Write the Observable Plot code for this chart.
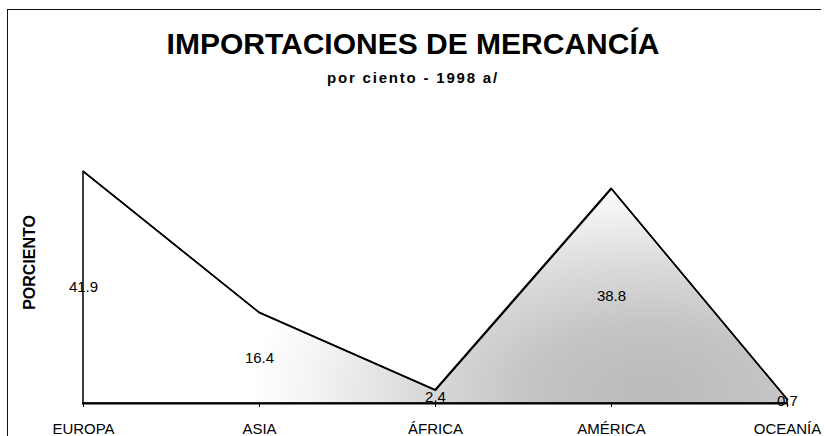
<!DOCTYPE html>
<html>
<head>
<meta charset="utf-8">
<script src="https://cdn.jsdelivr.net/npm/d3@7"></script>
<script src="https://cdn.jsdelivr.net/npm/@observablehq/plot@0.6"></script>
<style>
  html, body { margin: 0; padding: 0; background: #fff; }
  body { width: 826px; height: 436px; position: relative; overflow: hidden; font-family: "Liberation Sans", Arial, sans-serif; }
  #frame { position: absolute; left: 7px; top: 9px; width: 813px; height: 440px; border-top: 1.5px solid #111; border-left: 1.5px solid #111; }
  #title { position: absolute; left: 0; top: 29px; width: 826px; text-align: center; font-weight: bold; font-size: 30px; line-height: 30px; color: #000; }
  #subtitle { position: absolute; left: 0; top: 70px; width: 826px; text-align: center; font-weight: bold; font-size: 15px; line-height: 15px; letter-spacing: 1.8px; color: #000; }
  #chart { position: absolute; left: 0; top: 90px; }
</style>
</head>
<body>
<div id="frame"></div>
<div id="title">IMPORTACIONES DE MERCANCÍA</div>
<div id="subtitle">por ciento - 1998 a/</div>
<div id="chart"></div>
<script>
const regions = ["EUROPA", "ASIA", "ÁFRICA", "AMÉRICA", "OCEANÍA"];
const values = [41.9, 16.4, 2.4, 38.8, 0.7];
const yLabel = "PORCIENTO";

const data = regions.map((r, i) => ({region: r, value: values[i]}));

const plot = Plot.plot({
  width: 826,
  height: 346,
  marginLeft: 82,
  marginRight: 38,
  marginTop: 64,
  marginBottom: 33,
  style: {fontFamily: "'Liberation Sans', Arial, sans-serif", fontSize: "15px", color: "#000", background: "transparent", overflow: "visible"},
  x: {type: "point", domain: regions, padding: 0, axis: null},
  y: {domain: [0, 45], nice: false, axis: null},
  marks: [
    Plot.areaY(data, {x: "region", y: "value", fill: "url(#speck)", stroke: "#000", strokeWidth: 1.5}),
    Plot.lineY(data, {x: "region", y: "value", stroke: "#000", strokeWidth: 1.6}),
    Plot.ruleY([0], {stroke: "#000", strokeWidth: 2.2}),
    Plot.axisX({tickSize: 4, tickPadding: 16, label: null, fontSize: 15}),
    Plot.text(data, {x: "region", y: d => d.value / 2, text: d => d.value.toFixed(1), fontSize: 15, fill: "#000"}),
    Plot.text([yLabel], {frameAnchor: "left", textAnchor: "middle", y: [25.5], dx: -53, rotate: -90, fontWeight: "bold", fontSize: 16, fill: "#000"})
  ]
});

const svg = plot.tagName.toLowerCase() === "svg" ? plot : plot.querySelector("svg");
const ns = "http://www.w3.org/2000/svg";
const defs = document.createElementNS(ns, "defs");
const grad = document.createElementNS(ns, "radialGradient");
grad.setAttribute("id", "speck");
grad.setAttribute("gradientUnits", "userSpaceOnUse");
grad.setAttribute("cx", "0");
grad.setAttribute("cy", "0");
grad.setAttribute("r", "1");
grad.setAttribute("gradientTransform", "translate(650,300) scale(400,215)");
[[0, "#bababa"], [0.3, "#c4c4c4"], [0.6, "#dcdcdc"], [0.85, "#f4f4f4"], [1, "#ffffff"]].forEach(([o, c]) => {
  const s = document.createElementNS(ns, "stop");
  s.setAttribute("offset", o);
  s.setAttribute("stop-color", c);
  grad.appendChild(s);
});
defs.appendChild(grad);
svg.insertBefore(defs, svg.firstChild);

document.getElementById("chart").appendChild(plot);
</script>
</body>
</html>
